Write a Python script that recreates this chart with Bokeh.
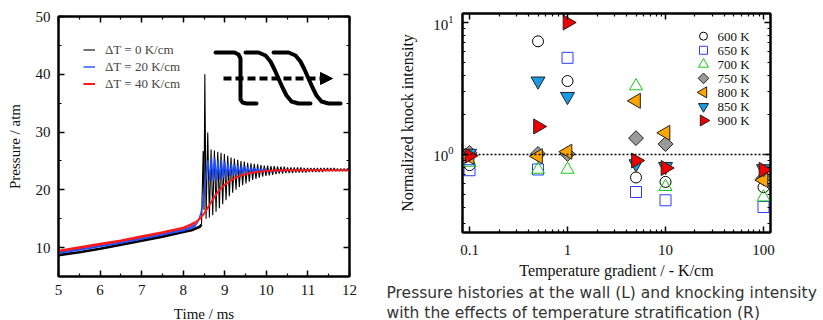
import math
import numpy as np
from bokeh.plotting import figure
from bokeh.layouts import row, column
from bokeh.models import (FixedTicker, LinearAxis, LogAxis, Legend, LegendItem, Span, Title,
                          Arrow, NormalHead, CustomJSTickFormatter, Range1d)
from bokeh.core.properties import value
from bokeh.embed import file_html
from bokeh.resources import INLINE

# ---------------- left panel data: pressure histories ----------------
black_pre_t = [5.0, 5.5, 6.0, 6.5, 7.0, 7.5, 8.0, 8.2, 8.3, 8.4, 8.44]
black_pre_p = [8.7, 9.2, 9.8, 10.5, 11.2, 11.9, 12.7, 13.0, 13.3, 13.6, 14.0]
black_post_t = [8.44, 8.48, 8.50, 8.52, 8.55, 8.59, 8.63, 8.67, 8.71, 8.75, 8.79, 8.83, 8.87, 8.91,
                8.95, 8.99, 9.03, 9.07, 9.11, 9.15, 9.19, 9.23, 9.27, 9.31, 9.35, 9.39, 9.43, 9.47,
                9.51, 9.55, 9.59, 9.63, 9.67, 9.71, 9.75, 9.79, 9.83, 9.87, 9.91, 9.95, 9.99, 10.03,
                10.07, 10.11, 10.15, 10.19, 10.23, 10.27, 10.31, 10.35, 10.39, 10.43, 10.47, 10.51,
                10.55, 10.59, 10.63, 10.67, 10.71, 10.75, 10.79, 10.83, 10.87, 10.91, 10.95, 10.99,
                11.03, 11.07, 11.11, 11.15, 11.19, 11.23, 11.27, 11.31, 11.35, 11.39, 11.43, 11.47,
                11.51, 11.55, 11.59, 11.63, 11.67, 11.71, 11.75, 11.79, 11.83, 11.87, 11.91, 11.95, 11.99]
black_post_p = [14.0, 26.7, 16.5, 40.0, 15.0, 29.9, 15.2, 27.0, 15.6, 26.8, 16.2, 26.6, 16.8, 26.4,
                17.5, 26.2, 18.2, 25.9, 18.9, 25.6, 19.5, 25.4, 20.0, 25.2, 20.5, 25.0, 20.8, 24.9,
                21.1, 24.7, 21.4, 24.6, 21.7, 24.5, 21.9, 24.4, 22.1, 24.3, 22.3, 24.2, 22.4, 24.2,
                22.5, 24.1, 22.6, 24.1, 22.7, 24.0, 22.8, 24.0, 22.8, 24.0, 22.9, 23.9,
                22.9, 23.9, 22.9, 23.9, 23.0, 23.9, 23.0, 23.9, 23.0, 23.8, 23.0, 23.8,
                23.1, 23.8, 23.1, 23.8, 23.1, 23.8, 23.1, 23.8, 23.1, 23.8, 23.2, 23.8,
                23.2, 23.8, 23.2, 23.8, 23.2, 23.7, 23.2, 23.7, 23.2, 23.7, 23.2, 23.7, 23.3]

blue_pre_t = [5.0, 5.5, 6.0, 6.5, 7.0, 7.5, 8.0, 8.2, 8.3]
blue_pre_p = [9.1, 9.7, 10.3, 10.9, 11.6, 12.3, 13.0, 13.5, 13.9]
blue_post_t = [8.3, 8.36, 8.42, 8.47, 8.52, 8.56, 8.60, 8.64, 8.68, 8.72, 8.76, 8.80, 8.84, 8.88,
               8.92, 8.96, 9.00, 9.04, 9.08, 9.12, 9.16, 9.20, 9.24, 9.28, 9.32, 9.36, 9.40, 9.44,
               9.48, 9.52, 9.56, 9.60, 9.64, 9.68, 9.72, 9.76, 9.80, 9.84, 9.88, 9.92, 9.96, 10.00,
               10.5, 11.0, 12.0]
blue_post_p = [13.9, 14.6, 15.8, 17.5, 20.5, 23.0, 25.2, 21.6, 25.6, 21.5, 25.5, 21.6, 25.3, 21.8,
               25.1, 22.0, 24.9, 22.2, 24.7, 22.4, 24.5, 22.5, 24.4, 22.6, 24.3, 22.7, 24.2, 22.8,
               24.1, 22.9, 24.0, 22.9, 23.9, 23.0, 23.8, 23.0, 23.8, 23.1, 23.7, 23.1, 23.7, 23.2,
               23.4, 23.4, 23.4]

red_pre_t = [5.0, 5.5, 6.0, 6.5, 7.0, 7.5, 8.0, 8.2, 8.3]
red_pre_p = [9.4, 10.0, 10.6, 11.2, 11.9, 12.6, 13.4, 14.0, 14.4]
red_post_t = [8.3, 8.4, 8.5, 8.6, 8.7, 8.8, 8.9, 9.0, 9.1, 9.2, 9.3, 9.4, 9.6, 9.8, 10.0, 10.5, 11.0, 12.0]
red_post_p = [14.4, 15.0, 15.9, 17.0, 18.2, 19.3, 20.2, 20.9, 21.4, 21.9, 22.2, 22.5, 22.9, 23.1,
              23.3, 23.4, 23.4, 23.4]

series_labels = ["ΔT = 0 K/cm", "ΔT = 20 K/cm", "ΔT = 40 K/cm"]
time_ticks = [5, 6, 7, 8, 9, 10, 11, 12]
time_minor = [5.5, 6.5, 7.5, 8.5, 9.5, 10.5, 11.5]
pressure_ticks = [10, 20, 30, 40, 50]
pressure_minor = [5, 15, 25, 35, 45]

# schematic inset (data units of the left panel)
icon1_x = [8.777, 9.234, 9.330, 9.378, 9.378, 9.426, 9.522, 9.763]
icon1_y = [43.77, 43.77, 43.42, 42.73, 35.63, 35.12, 34.94, 34.94]
icon2_x = [9.498, 9.811, 9.979, 10.100, 10.196, 10.292, 10.388, 10.485, 10.605, 10.773, 11.062]
icon2_y = [43.77, 43.77, 43.25, 42.21, 40.83, 39.27, 37.71, 36.33, 35.29, 34.94, 34.94]
icon3_x = [10.172, 10.533, 10.701, 10.821, 10.918, 11.014, 11.110, 11.206, 11.327, 11.495, 11.784]
icon3_y = [43.77, 43.77, 43.25, 42.21, 40.83, 39.27, 37.71, 36.33, 35.29, 34.94, 34.94]
arrow_x = [8.969, 11.591]
arrow_y = [39.27, 39.27]

# ---------------- right panel data: knock intensity ----------------
gradient = [0.1, 0.5, 1, 5, 10, 100]
k600 = [0.83, 7.2, 3.6, 0.67, 0.62, 0.565]
k650 = [0.76, 0.77, 5.4, 0.52, 0.45, 0.40]
k700 = [0.87, 0.77, 0.77, 3.3, 0.57, 0.475]
k750 = [1.03, 1.01, 1.01, 1.33, 1.20, 0.66]
k800 = [0.96, 0.97, 1.05, 2.55, 1.46, 0.64]
k850 = [1.02, 3.6, 2.75, 0.85, 0.81, 0.78]
k900 = [0.98, 1.63, 10.0, 0.90, 0.79, 0.765]
temp_labels = ["600 K", "650 K", "700 K", "750 K", "800 K", "850 K", "900 K"]
grad_ticks = [0.1, 1, 10, 100]
grad_minor = [0.2, 0.3, 0.4, 0.5, 0.6, 0.7, 0.8, 0.9, 2, 3, 4, 5, 6, 7, 8, 9,
              20, 30, 40, 50, 60, 70, 80, 90]
knock_ticks = [1, 10]
knock_minor = [0.3, 0.4, 0.5, 0.6, 0.7, 0.8, 0.9, 2, 3, 4, 5, 6, 7, 8, 9]

caption1 = "Pressure histories at the wall (L) and knocking intensity"
caption2 = "with the effects of temperature stratification (R)"

SERIF = "Liberation Serif"


def style_axis(ax, label_size, axis_label_size):
    ax.major_tick_in = 6
    ax.major_tick_out = 0
    ax.minor_tick_in = 3
    ax.minor_tick_out = 0
    ax.axis_line_width = 2
    ax.axis_line_color = "black"
    ax.major_tick_line_width = 1.5
    ax.minor_tick_line_width = 1.2
    ax.major_tick_line_color = "black"
    ax.minor_tick_line_color = "black"
    ax.major_label_text_font = SERIF
    ax.major_label_text_font_size = label_size
    ax.major_label_text_color = "#111111"
    ax.axis_label_text_font = SERIF
    ax.axis_label_text_font_size = axis_label_size
    ax.axis_label_text_font_style = "normal"
    ax.axis_label_text_color = "#111111"


def mirror(ax):
    ax.major_label_text_font_size = "0px"
    ax.major_label_standoff = 0
    ax.formatter = CustomJSTickFormatter(code="return ''")


# ---------------- left figure ----------------
p1 = figure(width=380, height=320, frame_width=291, frame_height=260,
            x_range=Range1d(5, 12), y_range=Range1d(5, 50),
            output_backend="svg", toolbar_location=None,
            min_border_left=58, min_border_right=31, min_border_top=16, min_border_bottom=44)
p1.xgrid.visible = False
p1.ygrid.visible = False
p1.outline_line_color = "black"
p1.outline_line_width = 2
p1.background_fill_color = "white"
p1.border_fill_color = "white"

tx = FixedTicker(ticks=time_ticks, minor_ticks=time_minor)
ty = FixedTicker(ticks=pressure_ticks, minor_ticks=pressure_minor)
p1.xaxis.ticker = tx
p1.yaxis.ticker = ty
p1.xaxis.axis_label = "Time / ms"
p1.yaxis.axis_label = "Pressure / atm"
style_axis(p1.xaxis[0], "15px", "15px")
style_axis(p1.yaxis[0], "15px", "15px")
p1.xaxis.major_label_standoff = 8
p1.yaxis.major_label_standoff = 8
p1.yaxis.axis_label_standoff = 10
p1.xaxis.axis_label_standoff = 8

ra = LinearAxis(ticker=ty)
style_axis(ra, "15px", "15px")
mirror(ra)
p1.add_layout(ra, "right")
ta = LinearAxis(ticker=tx)
style_axis(ta, "15px", "15px")
mirror(ta)
p1.add_layout(ta, "above")

p1.line(black_pre_t, black_pre_p, line_color="black", line_width=2.6)
rb = p1.line(black_post_t, black_post_p, line_color="black", line_width=1.1)
p1.line(blue_pre_t, blue_pre_p, line_color="#1f4fff", line_width=2.6)
rbl = p1.line(blue_post_t, blue_post_p, line_color="#1f4fff", line_width=1.4)
p1.line(red_pre_t, red_pre_p, line_color="#ff1a1a", line_width=2.6)
rr = p1.line(red_post_t, red_post_p, line_color="#ff1a1a", line_width=2.0)

for ix, iy in [(icon1_x, icon1_y), (icon2_x, icon2_y), (icon3_x, icon3_y)]:
    p1.line(ix, iy, line_color="black", line_width=4, line_cap="round", line_join="round")
p1.add_layout(Arrow(end=NormalHead(size=12, fill_color="black", line_color="black", line_width=1),
                    x_start=arrow_x[0], y_start=arrow_y[0], x_end=arrow_x[1], y_end=arrow_y[1],
                    line_width=4, line_dash="8 4", line_color="black"))

leg1 = Legend(items=[LegendItem(label=series_labels[0], renderers=[rb]),
                     LegendItem(label=series_labels[1], renderers=[rbl]),
                     LegendItem(label=series_labels[2], renderers=[rr])],
              location="top_left", margin=25, glyph_width=12, glyph_height=17, label_height=17,
              spacing=0, padding=0, border_line_alpha=0, background_fill_alpha=0,
              label_text_font=SERIF, label_text_font_size="13px", label_standoff=10)
p1.add_layout(leg1)

# ---------------- right figure ----------------
x_lo, x_hi = 0.0848, 117.9
y_lo, y_hi = 0.2565, 11.7
FW2, FH2 = 308, 219
p2 = figure(width=443, height=320, frame_width=FW2, frame_height=FH2,
            x_axis_type="log", y_axis_type="log",
            x_range=Range1d(x_lo, x_hi), y_range=Range1d(y_lo, y_hi),
            output_backend="svg", toolbar_location=None,
            min_border_left=82, min_border_right=53, min_border_top=13, min_border_bottom=88)
p2.xgrid.visible = False
p2.ygrid.visible = False
p2.outline_line_color = "black"
p2.outline_line_width = 2
p2.background_fill_color = "white"
p2.border_fill_color = "white"

gx = FixedTicker(ticks=grad_ticks, minor_ticks=grad_minor)
gy = FixedTicker(ticks=knock_ticks, minor_ticks=knock_minor)
p2.xaxis.ticker = gx
p2.yaxis.ticker = gy
p2.xaxis.formatter = CustomJSTickFormatter(code="return String(tick)")
p2.xaxis.axis_label = "Temperature gradient / - K/cm"
p2.yaxis.axis_label = "Normalized knock intensity"
style_axis(p2.xaxis[0], "15px", "16px")
style_axis(p2.yaxis[0], "15px", "16px")
p2.xaxis.major_label_standoff = 12
p2.yaxis.major_label_standoff = 9
p2.xaxis.axis_label_standoff = 4
p2.yaxis.axis_label_standoff = 14

ra2 = LogAxis(ticker=gy)
style_axis(ra2, "15px", "15px")
mirror(ra2)
p2.add_layout(ra2, "right")
ta2 = LogAxis(ticker=gx)
style_axis(ta2, "15px", "15px")
mirror(ta2)
p2.add_layout(ta2, "above")

p2.add_layout(Span(location=1, dimension="width", line_color="black", line_width=1.5,
                   line_dash="2 2"))

marker_styles = [
    dict(marker="circle", size=11, fill_color=None, line_color="black"),
    dict(marker="square", size=11, fill_color=None, line_color="#2a3cff"),
    dict(marker="triangle", size=13, fill_color=None, line_color="#18c818"),
    dict(marker="square", angle=np.pi / 4, size=10.5, fill_color="#9a9a9a", line_color="#222222"),
    dict(marker="triangle", angle=np.pi / 2, size=15, fill_color="#ffa500", line_color="#222222"),
    dict(marker="inverted_triangle", size=14, fill_color="#1a9be6", line_color="#222222"),
    dict(marker="triangle", angle=-np.pi / 2, size=15, fill_color="#ee0000", line_color="#222222"),
]
legend_sizes = [8, 8, 10, 7.5, 11, 10, 11]
series = [k600, k650, k700, k750, k800, k850, k900]
for ys, st in zip(series, marker_styles):
    p2.scatter(gradient, ys, line_width=1, **st)


# hand-made key (screen offsets inside the frame converted through the log scales)
def fx(px):
    a, b = math.log10(x_lo), math.log10(x_hi)
    return 10 ** (a + px / FW2 * (b - a))


def fy(py_from_top):
    a, b = math.log10(y_lo), math.log10(y_hi)
    return 10 ** (b - py_from_top / FH2 * (b - a))


key_rows = [fy(22.7 + 14.05 * i) for i in range(len(temp_labels))]
for i, st in enumerate(marker_styles):
    st2 = dict(st)
    st2["size"] = legend_sizes[i]
    p2.scatter([fx(241)], [key_rows[i]], line_width=1, **st2)
p2.text(x=[fx(255)] * len(temp_labels), y=key_rows, text=temp_labels,
        text_font=value(SERIF), text_font_size="13px", text_baseline="middle",
        text_align="left", text_color="#111111")

for txt in [caption1, caption2]:
    p2.add_layout(Title(text=txt, align="left", offset=-76, text_font="DejaVu Sans",
                        text_font_size="15.5px", text_font_style="normal", text_color="#333333",
                        standoff=0), "below")

layout = row(column(p1), column(p2))
open("out.html", "w").write(file_html(layout, INLINE))
